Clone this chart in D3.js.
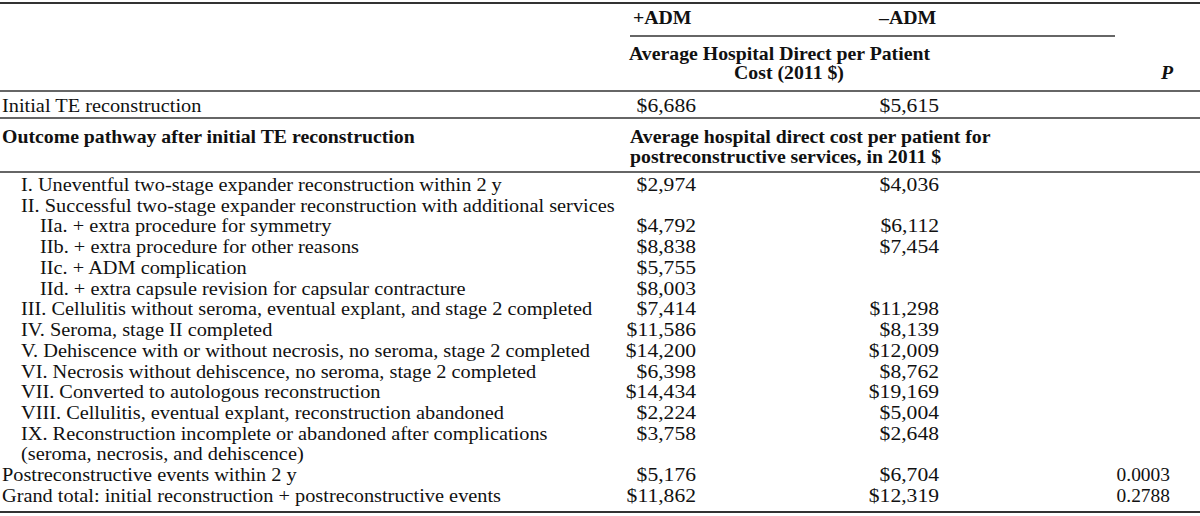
<!DOCTYPE html>
<html>
<head>
<meta charset="utf-8">
<script src="https://cdn.jsdelivr.net/npm/d3@7"></script>
<style>
  html, body { margin: 0; padding: 0; background: #fff; }
  svg { display: block; }
  text { font-family: "Liberation Serif", "DejaVu Serif", serif; fill: #111; }
</style>
</head>
<body>
<svg id="chart" width="1200" height="516"></svg>
<script>
// ---------- data ----------
const groupHeaders = ["+ADM", "–ADM"];
const costHeader = ["Average Hospital Direct per Patient", "Cost (2011 $)"];
const pHeader = "P";

const initialLabel = "Initial TE reconstruction";
const initialAdm = 6686;
const initialNoAdm = 5615;

const sectionLabel = "Outcome pathway after initial TE reconstruction";
const sectionCostHeader = ["Average hospital direct cost per patient for", "postreconstructive services, in 2011 $"];

const rowLabels = [
  "I. Uneventful two-stage expander reconstruction within 2 y",
  "II. Successful two-stage expander reconstruction with additional services",
  "IIa. + extra procedure for symmetry",
  "IIb. + extra procedure for other reasons",
  "IIc. + ADM complication",
  "IId. + extra capsule revision for capsular contracture",
  "III. Cellulitis without seroma, eventual explant, and stage 2 completed",
  "IV. Seroma, stage II completed",
  "V. Dehiscence with or without necrosis, no seroma, stage 2 completed",
  "VI. Necrosis without dehiscence, no seroma, stage 2 completed",
  "VII. Converted to autologous reconstruction",
  "VIII. Cellulitis, eventual explant, reconstruction abandoned",
  "IX. Reconstruction incomplete or abandoned after complications",
  "(seroma, necrosis, and dehiscence)",
  "Postreconstructive events within 2 y",
  "Grand total: initial reconstruction + postreconstructive events"
];
const rowIndent = [1, 1, 2, 2, 2, 2, 1, 1, 1, 1, 1, 1, 1, 1, 0, 0];
const admCost   = [2974, null, 4792, 8838, 5755, 8003, 7414, 11586, 14200, 6398, 14434, 2224, 3758, null, 5176, 11862];
const noAdmCost = [4036, null, 6112, 7454, null, null, 11298, 8139, 12009, 8762, 19169, 5004, 2648, null, 6704, 12319];
const pValues   = [null, null, null, null, null, null, null, null, null, null, null, null, null, null, "0.0003", "0.2788"];

// ---------- layout ----------
const W = 1200, H = 516;
const svg = d3.select("#chart");
const fs = 18;
const SX = 1.13, SXB = 1.1, SXN = 1.2;   // horizontal widening to mimic the wide book face
const money = v => "$" + d3.format(",")(v);

// column x positions (right edges for numeric columns)
const colX = d3.scaleOrdinal().domain(["adm", "noAdm", "p"]).range([696, 939, 1170]);
const indentX = d3.scaleLinear().domain([0, 2]).range([2, 40]);
// row y (text centres) for body rows
const rowY = d3.scaleLinear().domain([0, rowLabels.length - 1]).range([185, 496]);

const line = (x1, x2, y, w) => svg.append("line")
  .attr("x1", x1).attr("x2", x2).attr("y1", y).attr("y2", y)
  .attr("stroke", "#333").attr("stroke-width", w);

// rules
line(0, W, 3, 2);
line(630, 1115, 36, 1.3);
line(0, W, 91, 1.3);
line(0, W, 118, 1.3);
line(0, W, 172, 1.3);
line(0, W, 512, 2);

const txt = (parent, s, x, y, opts = {}) => parent.append("text")
  .attr("transform", `translate(${x},${y + fs * 0.33}) scale(${opts.sx || SX},1)`)
  .attr("font-size", fs)
  .attr("font-weight", opts.bold ? "bold" : null)
  .attr("font-style", opts.italic ? "italic" : null)
  .attr("text-anchor", opts.anchor || "start")
  .text(s);

// header
txt(svg, groupHeaders[0], 633, 18, { bold: true, sx: SXB });
txt(svg, groupHeaders[1], 879, 18, { bold: true, sx: SXB });
txt(svg, costHeader[0], 629, 54, { bold: true, sx: SXB });
txt(svg, costHeader[1], 789, 73, { bold: true, anchor: "middle", sx: SXB });
txt(svg, pHeader, 1173, 73, { bold: true, italic: true, anchor: "end", sx: SXB });

// initial row
txt(svg, initialLabel, 2, 106);
txt(svg, money(initialAdm), colX("adm"), 106, { anchor: "end", sx: SXN });
txt(svg, money(initialNoAdm), colX("noAdm"), 106, { anchor: "end", sx: SXN });

// section header
txt(svg, sectionLabel, 2, 137, { bold: true, sx: SXB });
txt(svg, sectionCostHeader[0], 630, 137, { bold: true, sx: SXB });
txt(svg, sectionCostHeader[1], 630, 157, { bold: true, sx: SXB });

// body rows
const rows = rowLabels.map((label, i) => ({
  label, indent: rowIndent[i], adm: admCost[i], noAdm: noAdmCost[i], p: pValues[i], i
}));

const rowG = svg.append("g").selectAll("g.row").data(rows).join("g").attr("class", "row");
rowG.each(function (d) {
  const g = d3.select(this);
  const y = rowY(d.i);
  txt(g, d.label, indentX(d.indent), y);
  if (d.adm != null) txt(g, money(d.adm), colX("adm"), y, { anchor: "end", sx: SXN });
  if (d.noAdm != null) txt(g, money(d.noAdm), colX("noAdm"), y, { anchor: "end", sx: SXN });
  if (d.p != null) txt(g, d.p, colX("p"), y, { anchor: "end", sx: 1.08 });
});
</script>
</body>
</html>
